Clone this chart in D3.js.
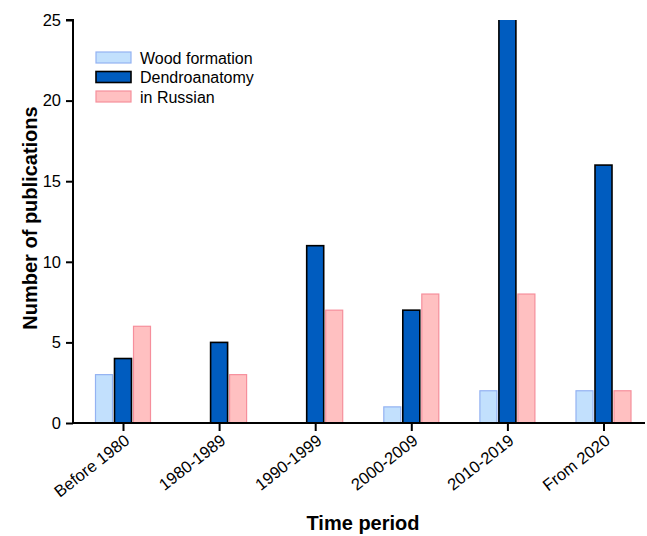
<!DOCTYPE html>
<html>
<head>
<meta charset="utf-8">
<script src="https://cdn.jsdelivr.net/npm/d3@7"></script>
<style>
  body { margin: 0; background: #fff; }
  svg text { font-family: "Liberation Sans", Arial, sans-serif; fill: #000; }
</style>
</head>
<body>
<svg id="chart" width="647" height="536"></svg>
<script>
// Publications per period
const periods = ['Before 1980', '1980-1989', '1990-1999', '2000-2009', '2010-2019', 'From 2020'];
const woodFormation = [3, 0, 0, 1, 2, 2];
const dendroanatomy = [4, 5, 11, 7, 27, 16];
const inRussian = [6, 3, 7, 8, 8, 2];
const yTicks = [0, 5, 10, 15, 20, 25];

const series = [
  { name: 'Wood formation', values: woodFormation, fill: '#c2e0fd', stroke: '#93b2f2', sw: 1.2 },
  { name: 'Dendroanatomy', values: dendroanatomy, fill: '#005cbf', stroke: '#000', sw: 1.6 },
  { name: 'in Russian', values: inRussian, fill: '#ffc0c1', stroke: '#f68f9c', sw: 1.2 }
];

const svg = d3.select('#chart');
const x0 = 73, yBase = 423, yTop = 20;

const x = d3.scalePoint().domain(periods).range([123, 603.5]);
const y = d3.scaleLinear().domain([0, 25]).range([yBase, yTop]);
const barW = 17, step = 19;

svg.append('defs').append('clipPath').attr('id', 'plot')
  .append('rect').attr('x', x0).attr('y', yTop).attr('width', 580).attr('height', yBase - yTop);

const bars = svg.append('g').attr('clip-path', 'url(#plot)');
series.forEach((s, si) => {
  bars.selectAll(null).data(s.values.map((v, i) => ({ v, p: periods[i] })).filter(d => d.v > 0))
    .join('rect')
    .attr('x', d => x(d.p) + (si - 1) * step - barW / 2)
    .attr('y', d => y(d.v))
    .attr('width', barW)
    .attr('height', d => yBase - y(d.v))
    .attr('fill', s.fill)
    .attr('stroke', s.stroke)
    .attr('stroke-width', s.sw);
});

// Y axis
const yAxis = svg.append('g').attr('transform', `translate(${x0},0)`)
  .call(d3.axisLeft(y).tickValues(yTicks).tickSize(7).tickPadding(5));
yAxis.select('.domain').attr('d', `M-7,${yTop}H0V${yBase}`).attr('stroke-width', 2);
yAxis.selectAll('.tick line').attr('stroke-width', 2);
yAxis.selectAll('.tick text').attr('font-size', 16.5);

// X axis
const xAxis = svg.append('g').attr('transform', `translate(0,${yBase})`)
  .call(d3.axisBottom(x).tickSize(8).tickPadding(6));
xAxis.select('.domain').attr('d', `M${x0},0H645`).attr('stroke-width', 2);
xAxis.selectAll('.tick line').attr('stroke-width', 2);
xAxis.selectAll('.tick text')
  .attr('font-size', 16.5)
  .attr('text-anchor', 'end')
  .attr('dy', '0.35em')
  .attr('transform', 'translate(-5,4) rotate(-38)');

// Axis titles
svg.append('text').attr('transform', 'translate(37,218) rotate(-90)')
  .attr('text-anchor', 'middle').attr('font-size', 20).attr('font-weight', 'bold')
  .text('Number of publications');
svg.append('text').attr('x', 363).attr('y', 530)
  .attr('text-anchor', 'middle').attr('font-size', 20).attr('font-weight', 'bold')
  .text('Time period');

// Legend
const legend = svg.append('g').attr('transform', 'translate(96,52)');
series.forEach((s, i) => {
  const g = legend.append('g').attr('transform', `translate(0,${i * 19.5})`);
  g.append('rect').attr('width', 35).attr('height', 11)
    .attr('fill', s.fill).attr('stroke', s.stroke).attr('stroke-width', s.sw);
  g.append('text').attr('x', 44).attr('y', 6).attr('dy', '0.35em')
    .attr('font-size', 16).text(s.name);
});
</script>
</body>
</html>
